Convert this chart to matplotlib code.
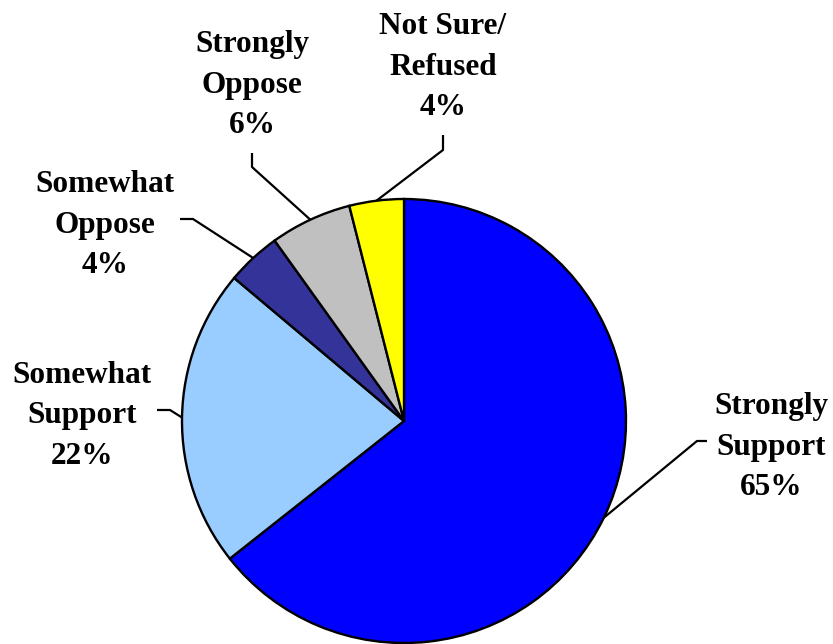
import numpy as np
import matplotlib
matplotlib.use("Agg")
import matplotlib.pyplot as plt

# Data
labels = ["Strongly\nSupport", "Somewhat\nSupport", "Somewhat\nOppose", "Strongly\nOppose", "Not Sure/\nRefused"]
values = [65, 22, 4, 6, 4]
colors = ["#0000FF", "#99CCFF", "#333399", "#C0C0C0", "#FFFF00"]

W, H = 833, 644
cx, cy, r = 404, 421, 222  # pie centre / radius in image pixels

# label centres and leader elbows in image pixels (y down)
label_pos = [(771, 447), (82, 416), (105, 225), (252, 85), (443, 67)]
elbows = [
    [(707, 441), (697, 441)],
    [(157, 410), (170, 410)],
    [(180, 219), (193, 219)],
    [(252, 153), (252, 167)],
    [(443, 135), (443, 150)],
]

fig = plt.figure(figsize=(W / 100, H / 100), dpi=100)
ax = fig.add_axes([0, 0, 1, 1])

wedges, _ = ax.pie(values, colors=colors, startangle=90, counterclock=False,
                   center=(cx, H - cy), radius=r,
                   wedgeprops=dict(edgecolor="black", linewidth=1.7))
ax.set_xlim(0, W)
ax.set_ylim(0, H)
ax.set_aspect("auto")
ax.axis("off")

font = dict(family="Liberation Serif", weight="bold", size=22.5)

for w, lab, v, (lx, ly), elb in zip(wedges, labels, values, label_pos, elbows):
    mid = np.deg2rad((w.theta1 + w.theta2) / 2)
    ex = cx + r * np.cos(mid)
    ey = (H - cy) + r * np.sin(mid)
    xs = [p[0] for p in elb] + [ex]
    ys = [H - p[1] for p in elb] + [ey]
    ax.plot(xs, ys, color="black", linewidth=1.6, solid_capstyle="butt")
    ax.text(lx, H - ly, f"{lab}\n{v}%", ha="center", va="center",
            multialignment="center", linespacing=1.52, color="black", **font)

fig.savefig("out.png", dpi=100, facecolor="white")
